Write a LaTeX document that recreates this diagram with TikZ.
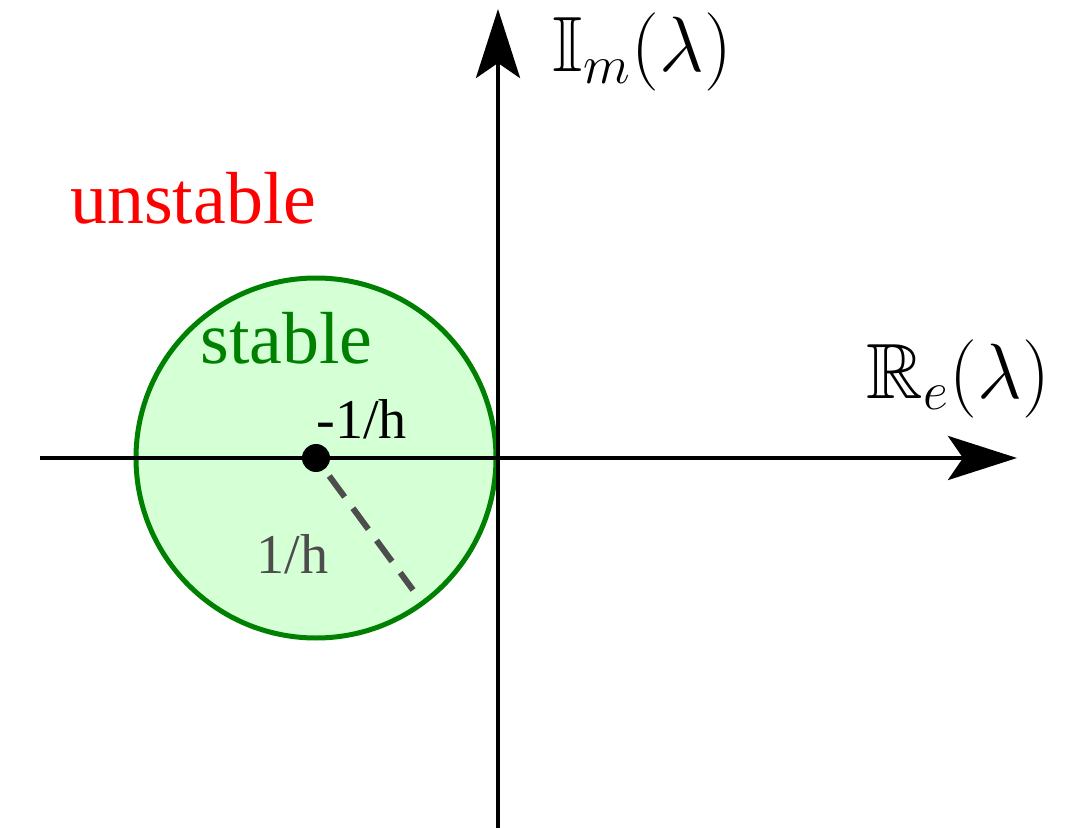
\documentclass[tikz,border=0pt]{standalone}
\usepackage{amssymb}
\usepackage{fontspec}
\setmainfont{Liberation Serif}
\usepackage{tikz}
\usetikzlibrary{arrows.meta}
\definecolor{diskgreen}{HTML}{008000}
\definecolor{diskfill}{HTML}{D5FFD5}
\definecolor{radgray}{HTML}{4D4D4D}
\definecolor{unstred}{HTML}{FF0000}

\begin{document}
\begin{tikzpicture}[
    x=0.02cm, y=-0.02cm,
    axis/.style={line width=0.09cm, -{Stealth[length=1.38cm, width=0.88cm, inset=0.3cm]}},
    region/.style={draw=diskgreen, fill=diskfill, line width=0.1cm},
    radline/.style={draw=radgray, line width=0.12cm, dash pattern=on 0.52cm off 0.28cm, dash phase=0.64cm},
    txt/.style={anchor=base west, inner sep=0pt},
    mathlbl/.style={txt, font=\huge, scale=2.15}
]
\useasboundingbox (0,0) rectangle (1076,828);

% stable region
\draw[region] (316,458) circle[radius=180];

% axes
\coordinate (xl) at (40,458);
\coordinate (xr) at (1017,458);
\coordinate (yb) at (498,828);
\coordinate (yt) at (498,9);
\draw[axis] (xl) -- (xr);
\draw[axis] (yb) -- (yt);

% centre and radius
\node[circle, fill=black, inner sep=0pt, minimum size=0.56cm] (ctr) at (316,458) {};
\coordinate (rend) at (413,590);
\draw[radline] (ctr) -- (rend);

% labels
\node[mathlbl] (imlbl) at (552,72) {$\mathbb{I}_m(\lambda)$};
\node[mathlbl] (relbl) at (866,398) {$\mathbb{R}_e(\lambda)$};
\node[txt, text=unstred, font=\fontsize{42}{50}\selectfont] (unst) at (70,223) {unstable};
\node[txt, text=diskgreen, font=\fontsize{42}{50}\selectfont] (stab) at (200,363) {stable};
\node[txt, font=\fontsize{32}{38}\selectfont] (cval) at (316,438) {-1/h};
\node[txt, text=radgray, font=\fontsize{32}{38}\selectfont] (rval) at (256,573) {1/h};
\end{tikzpicture}
\end{document}
